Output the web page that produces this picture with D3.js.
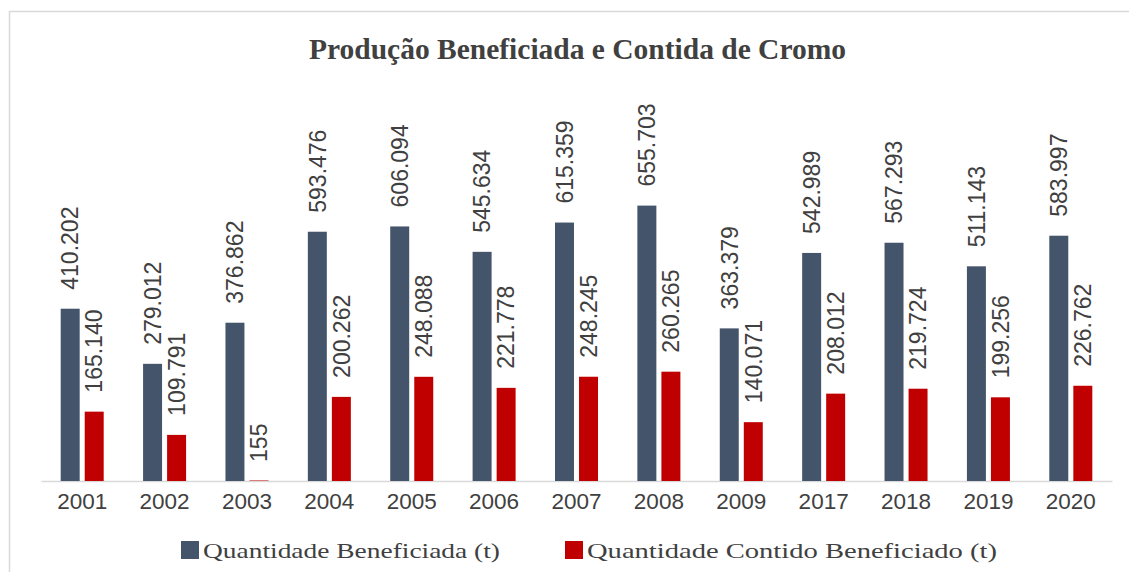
<!DOCTYPE html>
<html>
<head>
<meta charset="utf-8">
<script src="https://cdn.jsdelivr.net/npm/d3@7"></script>
<style>
  html, body { margin: 0; padding: 0; background: #fff; }
  svg { display: block; }
</style>
</head>
<body>
<script>
const years = ["2001","2002","2003","2004","2005","2006","2007","2008","2009","2017","2018","2019","2020"];
const beneficiada = [410202, 279012, 376862, 593476, 606094, 545634, 615359, 655703, 363379, 542989, 567293, 511143, 583997];
const contido = [165140, 109791, 155, 200262, 248088, 221778, 248245, 260265, 140071, 208012, 219724, 199256, 226762];
const seriesNames = ["Quantidade Beneficiada (t)", "Quantidade Contido Beneficiado (t)"];
const seriesColors = ["#44546A", "#C00000"];
const title = "Produção Beneficiada e Contida de Cromo";

const W = 1129, H = 572;
const svg = d3.select("body").append("svg").attr("width", W).attr("height", H);

// outer chart border
svg.append("rect").attr("x", 9.5).attr("y", 11.5).attr("width", W + 20).attr("height", H + 20)
  .attr("fill", "none").attr("stroke", "#d9d9d9").attr("stroke-width", 1.5);

const x0 = d3.scaleBand().domain(years).range([41, 1112]).paddingInner(0.478).paddingOuter(0.239);
const x1 = d3.scaleBand().domain([0, 1]).range([0, x0.bandwidth()]).paddingInner(0.21);
const y = d3.scaleLinear().domain([0, 700000]).range([481, 187]);

const fmt = d3.formatLocale({decimal: ",", thousands: ".", grouping: [3], currency: ["", ""]}).format(",");

const rows = years.map((yr, i) => ({year: yr, vals: [beneficiada[i], contido[i]]}));

// title
svg.append("text").attr("x", 577.5).attr("y", 59).attr("text-anchor", "middle")
  .attr("font-family", "'Liberation Serif', 'Times New Roman', serif").attr("font-weight", "bold")
  .attr("font-size", 29).attr("fill", "#404040")
  .attr("textLength", 537).attr("lengthAdjust", "spacingAndGlyphs").text(title);

// x axis
const xAxis = d3.axisBottom(x0).tickSize(0).tickPadding(12);
const ax = svg.append("g").attr("transform", `translate(0,${y(0)})`).call(xAxis);
ax.select(".domain").attr("stroke", "#d9d9d9").attr("stroke-width", 1.5);
ax.selectAll("text").attr("font-family", "'Liberation Sans', Arial, sans-serif")
  .attr("font-size", 22.5).attr("fill", "#404040");

const g = svg.selectAll("g.grp").data(rows).join("g").attr("class", "grp")
  .attr("transform", d => `translate(${x0(d.year)},0)`);

g.selectAll("rect").data(d => d.vals.map((v, k) => ({v, k}))).join("rect")
  .attr("x", d => x1(d.k)).attr("width", x1.bandwidth())
  .attr("y", d => Math.min(y(d.v), y(0) - 1)).attr("height", d => Math.max(y(0) - y(d.v), 1))
  .attr("fill", d => seriesColors[d.k]).attr("fill-opacity", d => (y(0) - y(d.v)) < 1 ? 0.5 : 1);

g.selectAll("text.lbl").data(d => d.vals.map((v, k) => ({v, k}))).join("text").attr("class", "lbl")
  .attr("transform", d => `translate(${x1(d.k) + x1.bandwidth() / 2},${y(d.v) - 19}) rotate(-90)`)
  .attr("dy", "0.36em")
  .attr("font-family", "'Liberation Sans', Arial, sans-serif").attr("font-size", 23)
  .attr("fill", "#404040").text(d => fmt(d.v));

// legend
const legendX = [181, 565];
const legendLen = [297, 410];
const lg = svg.selectAll("g.leg").data(seriesNames).join("g").attr("class", "leg")
  .attr("transform", (d, i) => `translate(${legendX[i]},541)`);
lg.append("rect").attr("width", 18).attr("height", 18).attr("fill", (d, i) => seriesColors[i]);
lg.append("text").attr("x", 22).attr("y", 16.5)
  .attr("font-family", "'Liberation Serif', 'Times New Roman', serif").attr("font-size", 21.5)
  .attr("fill", "#404040")
  .attr("textLength", (d, i) => legendLen[i]).attr("lengthAdjust", "spacingAndGlyphs").text(d => d);
</script>
</body>
</html>
